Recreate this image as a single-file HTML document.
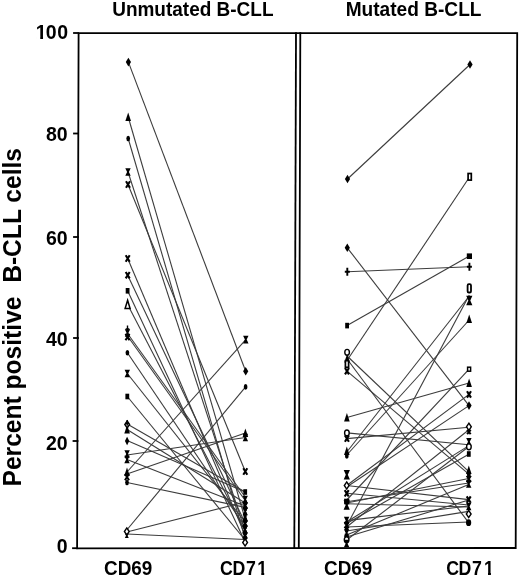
<!DOCTYPE html>
<html><head><meta charset="utf-8"><title>Percent positive B-CLL cells</title>
<style>html,body{margin:0;padding:0;background:#fff;width:520px;height:577px;overflow:hidden}svg{display:block}</style>
</head><body><svg width="520" height="577" viewBox="0 0 520 577"><g stroke="#000" stroke-width="1.8" fill="none" stroke-linecap="square">
<path d="M78.6,33.2 L517.2,33.2 L515.7,548 L77.1,548.3 Z"/>
<line x1="296" y1="33.2" x2="294.3" y2="548"/>
<line x1="300.3" y1="33.2" x2="298.8" y2="548"/>
<line x1="74" y1="33" x2="78" y2="33"/>
<line x1="74" y1="133.5" x2="78" y2="133.5"/>
<line x1="74" y1="237" x2="78" y2="237"/>
<line x1="74" y1="338" x2="78" y2="338"/>
<line x1="73.5" y1="441" x2="77.5" y2="441"/>
<line x1="73" y1="548.2" x2="77" y2="548.2"/>
</g><g stroke="#3c3c3c" stroke-width="1.1" fill="none"><line x1="128.4" y1="62.1" x2="245.7" y2="371.2"/><line x1="128.2" y1="117.0" x2="245.1" y2="519.0"/><line x1="128.2" y1="138.5" x2="245.1" y2="538.5"/><line x1="128.0" y1="172.0" x2="245.1" y2="531.0"/><line x1="128.0" y1="184.5" x2="245.3" y2="471.5"/><line x1="127.7" y1="258.5" x2="245.1" y2="535.0"/><line x1="127.7" y1="275.2" x2="245.1" y2="523.0"/><line x1="127.6" y1="290.8" x2="245.1" y2="542.0"/><line x1="127.6" y1="304.5" x2="245.1" y2="531.0"/><line x1="127.5" y1="333.5" x2="245.2" y2="497.0"/><line x1="127.5" y1="336.0" x2="245.2" y2="500.5"/><line x1="127.4" y1="352.7" x2="245.1" y2="527.0"/><line x1="127.3" y1="373.5" x2="245.1" y2="522.0"/><line x1="127.3" y1="396.5" x2="245.1" y2="540.0"/><line x1="127.2" y1="424.0" x2="245.2" y2="492.0"/><line x1="127.1" y1="429.5" x2="245.2" y2="503.0"/><line x1="127.1" y1="440.5" x2="245.2" y2="492.0"/><line x1="127.1" y1="455.0" x2="245.4" y2="437.5"/><line x1="127.0" y1="459.5" x2="245.2" y2="506.0"/><line x1="127.0" y1="472.0" x2="245.8" y2="339.6"/><line x1="127.0" y1="474.0" x2="245.4" y2="433.0"/><line x1="127.0" y1="482.5" x2="245.2" y2="507.4"/><line x1="126.8" y1="530.0" x2="245.6" y2="386.9"/><line x1="126.8" y1="532.0" x2="245.2" y2="502.0"/><line x1="126.8" y1="534.0" x2="245.1" y2="539.5"/><line x1="347.5" y1="179.0" x2="470.0" y2="64.5"/><line x1="347.3" y1="247.8" x2="469.0" y2="405.6"/><line x1="347.3" y1="271.8" x2="469.4" y2="266.8"/><line x1="347.1" y1="325.6" x2="469.4" y2="256.0"/><line x1="347.1" y1="359.0" x2="468.6" y2="522.7"/><line x1="347.0" y1="360.5" x2="469.7" y2="176.8"/><line x1="347.1" y1="356.0" x2="468.8" y2="471.6"/><line x1="347.0" y1="371.2" x2="468.8" y2="474.2"/><line x1="346.9" y1="417.5" x2="469.1" y2="383.0"/><line x1="346.9" y1="432.9" x2="468.9" y2="444.7"/><line x1="346.9" y1="438.6" x2="468.9" y2="427.3"/><line x1="346.8" y1="452.0" x2="469.3" y2="296.0"/><line x1="346.8" y1="455.0" x2="469.2" y2="320.0"/><line x1="346.6" y1="526.0" x2="469.3" y2="295.0"/><line x1="346.7" y1="485.5" x2="469.0" y2="394.4"/><line x1="346.7" y1="487.0" x2="469.0" y2="405.6"/><line x1="346.7" y1="485.5" x2="468.7" y2="499.6"/><line x1="346.7" y1="493.3" x2="468.7" y2="505.0"/><line x1="346.7" y1="500.0" x2="469.1" y2="369.2"/><line x1="346.7" y1="501.7" x2="468.8" y2="483.0"/><line x1="346.7" y1="503.7" x2="468.7" y2="507.0"/><line x1="346.6" y1="527.0" x2="468.9" y2="429.7"/><line x1="346.6" y1="540.0" x2="468.9" y2="446.5"/><line x1="346.6" y1="522.0" x2="468.9" y2="445.6"/><line x1="346.6" y1="523.6" x2="468.8" y2="454.2"/><line x1="346.7" y1="503.0" x2="468.8" y2="478.5"/><line x1="346.6" y1="535.0" x2="468.7" y2="484.5"/><line x1="346.6" y1="531.0" x2="468.7" y2="511.4"/><line x1="346.6" y1="527.0" x2="468.6" y2="522.0"/><line x1="346.6" y1="520.6" x2="468.7" y2="506.0"/><line x1="346.6" y1="537.0" x2="468.7" y2="500.0"/></g><g><polygon points="128.4,57.8 131.0,62.1 128.4,66.4 125.8,62.1" fill="#000"/><polygon points="128.2,112.4 131.0,120.9 125.4,120.9" fill="#000"/><ellipse cx="128.2" cy="138.5" rx="1.85" ry="2.8" fill="#000"/><polygon points="125.3,168.2 130.7,168.2 128.9,172.0 130.7,175.8 125.3,175.8 127.1,172.0" fill="#000"/><path d="M126.0,181.3L130.0,187.7M130.0,181.3L126.0,187.7" stroke="#000" stroke-width="2.1"/><path d="M125.7,255.3L129.7,261.7M129.7,255.3L125.7,261.7" stroke="#000" stroke-width="2.1"/><path d="M125.7,272.0L129.7,278.4M129.7,272.0L125.7,278.4" stroke="#000" stroke-width="2.1"/><rect x="125.7" y="288.0" width="3.8" height="5.6" fill="#000"/><polygon points="127.6,300.3 130.1,308.5 125.1,308.5" fill="#fff" stroke="#000" stroke-width="1.5" stroke-linejoin="miter"/><path d="M127.5,325.5V331.0M125.7,329.0H129.3" stroke="#000" stroke-width="1.4"/><polygon points="124.8,329.2 130.2,329.2 128.4,333.0 130.2,336.8 124.8,336.8 126.6,333.0" fill="#000"/><path d="M125.5,333.8L129.5,340.2M129.5,333.8L125.5,340.2" stroke="#000" stroke-width="2.1"/><ellipse cx="127.4" cy="352.7" rx="1.85" ry="2.8" fill="#000"/><polygon points="124.6,369.7 130.0,369.7 128.2,373.5 130.0,377.3 124.6,377.3 126.4,373.5" fill="#000"/><rect x="125.4" y="393.7" width="3.8" height="5.6" fill="#000"/><polygon points="127.2,420.9 129.6,424.5 127.2,428.1 124.8,424.5" fill="#fff" stroke="#000" stroke-width="1.4"/><path d="M127.2,420.0V425.5M125.4,423.5H129.0" stroke="#000" stroke-width="1.4"/><polygon points="127.1,424.9 129.9,433.4 124.3,433.4" fill="#000"/><polygon points="127.1,436.8 129.3,441.0 127.1,445.2 124.9,441.0" fill="#000"/><polygon points="124.4,450.2 129.8,450.2 128.0,454.0 129.8,457.8 124.4,457.8 126.2,454.0" fill="#000"/><polygon points="124.3,455.7 129.7,455.7 127.9,459.5 129.7,463.3 124.3,463.3 126.1,459.5" fill="#000"/><polygon points="127.0,467.4 129.8,475.9 124.2,475.9" fill="#000"/><path d="M125.0,473.8L129.0,480.2M129.0,473.8L125.0,480.2" stroke="#000" stroke-width="2.1"/><ellipse cx="127.0" cy="482.5" rx="1.85" ry="2.8" fill="#000"/><polygon points="126.8,527.9 129.2,531.5 126.8,535.1 124.4,531.5" fill="#fff" stroke="#000" stroke-width="1.4"/><polygon points="124.8,533.6 128.8,533.6 127.6,535.8 128.8,538.0 124.8,538.0 126.0,535.8" fill="#000"/><polygon points="243.1,335.8 248.5,335.8 246.7,339.6 248.5,343.4 243.1,343.4 244.9,339.6" fill="#000"/><polygon points="245.7,366.9 248.3,371.2 245.7,375.5 243.1,371.2" fill="#000"/><ellipse cx="245.6" cy="386.9" rx="1.85" ry="2.8" fill="#000"/><polygon points="245.4,428.4 248.2,436.9 242.6,436.9" fill="#000"/><polygon points="242.7,433.7 248.1,433.7 246.3,437.5 248.1,441.3 242.7,441.3 244.5,437.5" fill="#000"/><path d="M243.3,468.3L247.3,474.7M247.3,468.3L243.3,474.7" stroke="#000" stroke-width="2.1"/><rect x="243.3" y="489.2" width="3.8" height="5.6" fill="#000"/><polygon points="242.5,495.7 247.9,495.7 246.1,499.5 247.9,503.3 242.5,503.3 244.3,499.5" fill="#000"/><ellipse cx="245.2" cy="502.5" rx="1.85" ry="2.8" fill="#000"/><path d="M243.2,502.3L247.2,508.7M247.2,502.3L243.2,508.7" stroke="#000" stroke-width="2.1"/><ellipse cx="245.2" cy="508.5" rx="1.85" ry="2.8" fill="#000"/><polygon points="242.5,507.7 247.9,507.7 246.1,511.5 247.9,515.3 242.5,515.3 244.3,511.5" fill="#000"/><ellipse cx="245.1" cy="514.5" rx="1.85" ry="2.8" fill="#000"/><polygon points="245.1,512.9 247.9,521.4 242.3,521.4" fill="#000"/><ellipse cx="245.1" cy="520.5" rx="1.85" ry="2.8" fill="#000"/><path d="M243.1,520.3L247.1,526.7M247.1,520.3L243.1,526.7" stroke="#000" stroke-width="2.1"/><ellipse cx="245.1" cy="526.5" rx="1.85" ry="2.8" fill="#000"/><polygon points="242.4,525.7 247.8,525.7 246.0,529.5 247.8,533.3 242.4,533.3 244.2,529.5" fill="#000"/><ellipse cx="245.1" cy="532.5" rx="1.85" ry="2.8" fill="#000"/><path d="M243.1,532.3L247.1,538.7M247.1,532.3L243.1,538.7" stroke="#000" stroke-width="2.1"/><ellipse cx="245.1" cy="538.0" rx="1.85" ry="2.8" fill="#000"/><polygon points="245.1,538.9 247.5,542.5 245.1,546.1 242.7,542.5" fill="#fff" stroke="#000" stroke-width="1.4"/><polygon points="347.5,174.7 350.1,179.0 347.5,183.3 344.9,179.0" fill="#000"/><polygon points="347.3,243.5 349.9,247.8 347.3,252.1 344.7,247.8" fill="#000"/><path d="M347.3,267.8V275.8M344.8,271.8H349.8" stroke="#000" stroke-width="1.9"/><rect x="345.2" y="322.8" width="3.8" height="5.6" fill="#000"/><ellipse cx="347.1" cy="352.3" rx="2.3" ry="2.9" fill="#fff" stroke="#000" stroke-width="1.4"/><polygon points="347.1,353.9 349.9,362.4 344.3,362.4" fill="#000"/><rect x="345.4" y="360.7" width="3.2" height="6.6" fill="#fff" stroke="#000" stroke-width="1.7"/><path d="M345.0,368.0L349.0,374.4M349.0,368.0L345.0,374.4" stroke="#000" stroke-width="2.1"/><polygon points="346.9,412.9 349.7,421.4 344.1,421.4" fill="#000"/><ellipse cx="346.9" cy="432.9" rx="2.3" ry="2.9" fill="#fff" stroke="#000" stroke-width="1.4"/><path d="M344.9,435.4L348.9,441.8M348.9,435.4L344.9,441.8" stroke="#000" stroke-width="2.1"/><polygon points="346.8,446.4 349.6,454.9 344.0,454.9" fill="#000"/><ellipse cx="346.8" cy="456.0" rx="1.85" ry="2.8" fill="#000"/><polygon points="343.7,470.0 349.9,470.0 347.8,474.8 349.9,479.6 343.7,479.6 345.8,474.8" fill="#000"/><polygon points="346.7,481.9 349.1,485.5 346.7,489.1 344.3,485.5" fill="#fff" stroke="#000" stroke-width="1.4"/><path d="M344.7,490.1L348.7,496.5M348.7,490.1L344.7,496.5" stroke="#000" stroke-width="2.1"/><rect x="344.1" y="498.7" width="5.2" height="5.6" fill="#000"/><polygon points="343.6,500.2 349.8,500.2 347.7,505.0 349.8,509.8 343.6,509.8 345.7,505.0" fill="#000"/><polygon points="343.9,516.7 349.3,516.7 347.5,520.5 349.3,524.3 343.9,524.3 345.7,520.5" fill="#000"/><path d="M344.6,521.8L348.6,528.2M348.6,521.8L344.6,528.2" stroke="#000" stroke-width="2.1"/><ellipse cx="346.6" cy="529.0" rx="1.85" ry="2.8" fill="#000"/><polygon points="343.9,529.2 349.3,529.2 347.5,533.0 349.3,536.8 343.9,536.8 345.7,533.0" fill="#000"/><rect x="344.7" y="533.7" width="3.8" height="5.6" fill="#000"/><ellipse cx="346.6" cy="539.8" rx="2.3" ry="2.9" fill="#fff" stroke="#000" stroke-width="1.4"/><polygon points="343.9,539.7 349.3,539.7 347.5,543.5 349.3,547.3 343.9,547.3 345.7,543.5" fill="#000"/><polygon points="470.0,60.2 472.6,64.5 470.0,68.8 467.4,64.5" fill="#000"/><rect x="468.1" y="173.5" width="3.2" height="6.6" fill="#fff" stroke="#000" stroke-width="1.7"/><rect x="466.8" y="253.4" width="5.2" height="5.6" fill="#000"/><path d="M469.4,262.8V270.8M466.9,266.8H471.9" stroke="#000" stroke-width="1.9"/><rect x="467.6" y="284.1" width="3.4" height="8.4" rx="1.3" fill="#fff" stroke="#000" stroke-width="1.8"/><polygon points="466.2,295.7 472.4,295.7 470.3,300.5 472.4,305.3 466.2,305.3 468.3,300.5" fill="#000"/><polygon points="469.2,314.4 472.0,322.9 466.4,322.9" fill="#000"/><rect x="467.6" y="367.2" width="3.0" height="4.0" fill="#fff" stroke="#000" stroke-width="1.5"/><polygon points="469.1,378.4 471.9,386.9 466.3,386.9" fill="#000"/><path d="M467.0,391.2L471.0,397.6M471.0,391.2L467.0,397.6" stroke="#000" stroke-width="2.1"/><polygon points="469.0,401.3 471.6,405.6 469.0,409.9 466.4,405.6" fill="#000"/><polygon points="468.9,423.2 471.3,426.8 468.9,430.4 466.5,426.8" fill="#fff" stroke="#000" stroke-width="1.4"/><path d="M467.1,429.8L470.7,434.2M470.7,429.8L467.1,434.2" stroke="#000" stroke-width="2"/><polygon points="466.2,437.9 471.6,437.9 469.8,441.7 471.6,445.5 466.2,445.5 468.0,441.7" fill="#000"/><ellipse cx="468.9" cy="446.8" rx="2.3" ry="2.9" fill="#fff" stroke="#000" stroke-width="1.4"/><rect x="466.9" y="451.2" width="3.8" height="5.6" fill="#000"/><polygon points="468.8,465.4 471.6,473.9 466.0,473.9" fill="#000"/><ellipse cx="468.8" cy="474.5" rx="1.85" ry="2.8" fill="#000"/><path d="M466.8,475.8L470.8,482.2M470.8,475.8L466.8,482.2" stroke="#000" stroke-width="2.1"/><polygon points="466.0,480.2 471.4,480.2 469.6,484.0 471.4,487.8 466.0,487.8 467.8,484.0" fill="#000"/><path d="M466.7,496.4L470.7,502.8M470.7,496.4L466.7,502.8" stroke="#000" stroke-width="2.1"/><polygon points="466.0,502.7 471.4,502.7 469.6,506.5 471.4,510.3 466.0,510.3 467.8,506.5" fill="#000"/><polygon points="468.7,510.4 471.1,514.0 468.7,517.6 466.3,514.0" fill="#fff" stroke="#000" stroke-width="1.4"/><ellipse cx="468.6" cy="522.7" rx="2.6" ry="3.4" fill="#000"/></g><g font-family="Liberation Sans, Arial, sans-serif" font-weight="bold" fill="#000">
<text x="112.2" y="16" font-size="19.5" textLength="161.3" lengthAdjust="spacingAndGlyphs">Unmutated B-CLL</text>
<text x="345.7" y="16" font-size="19.5" textLength="135.8" lengthAdjust="spacingAndGlyphs">Mutated B-CLL</text>
<g font-size="19.5" text-anchor="end">
<text x="35.75 45.73 57.23" y="39.2" text-anchor="start">100</text><rect x="36.58" y="36.9" width="3.67" height="3" fill="#fff"/><rect x="43.03" y="36.9" width="3.37" height="3" fill="#fff"/>
<text x="67.6" y="141.2">80</text>
<text x="67.6" y="244.6">60</text>
<text x="67.6" y="346.2">40</text>
<text x="67.6" y="449.6">20</text>
<text x="67.6" y="553.2">0</text>
</g>
<g font-size="19.5">
<text x="104" y="575.2" textLength="48.3" lengthAdjust="spacingAndGlyphs">CD69</text>
<text transform="translate(220.1,575.2) scale(0.91,1)" x="0 13.5 28.4" text-anchor="start">CD7<tspan x="40.9">1</tspan></text><rect x="257.44" y="572.7" width="3.82" height="3.4" fill="#fff"/><rect x="264.20" y="572.7" width="3.09" height="3.4" fill="#fff"/>
<text x="324" y="575.2" textLength="48.3" lengthAdjust="spacingAndGlyphs">CD69</text>
<text transform="translate(446.2,575.2) scale(0.91,1)" x="0 13.5 28.4" text-anchor="start">CD7<tspan x="41.6">1</tspan></text><rect x="484.18" y="572.7" width="3.82" height="3.4" fill="#fff"/><rect x="490.94" y="572.7" width="3.09" height="3.4" fill="#fff"/>
</g>
<text transform="translate(21,486.5) rotate(-90)" font-size="25" textLength="338.5" lengthAdjust="spacingAndGlyphs" xml:space="preserve" style="white-space:pre">Percent positive  B-CLL cells</text>
</g></svg></body></html>
